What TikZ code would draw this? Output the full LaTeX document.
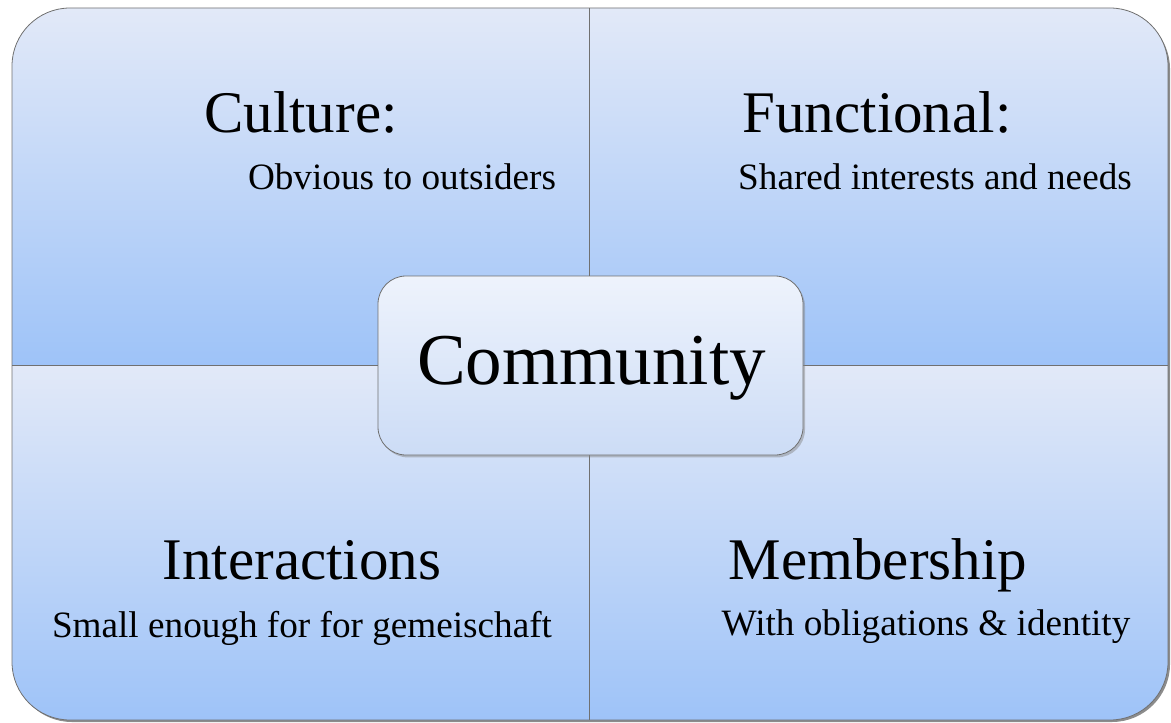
\documentclass[tikz,border=0pt]{standalone}
\usepackage{fontspec}
\setmainfont{Liberation Serif}
\usetikzlibrary{shadows}
\definecolor{paneltop}{RGB}{226,233,248}
\definecolor{panelbot}{RGB}{158,195,248}
\definecolor{hubtop}{RGB}{238,243,252}
\definecolor{hubbot}{RGB}{204,220,246}
\definecolor{edgegray}{RGB}{112,112,112}

\begin{document}
\begin{tikzpicture}
                [x=0.5pt,y=-0.5pt,
                quad/.style={top color=paneltop,bottom color=panelbot},
                title/.style={inner sep=0pt,anchor=base,font=\fontsize{29.5}{34}\selectfont},
                subtitle/.style={inner sep=0pt,anchor=base,font=\fontsize{18.6}{22}\selectfont},
                hub/.style={draw=edgegray,rounded corners=14pt,top color=hubtop,bottom color=hubbot,
                  minimum width=212.5pt,minimum height=89.5pt,inner sep=0pt,
                  drop shadow={shadow xshift=1pt,shadow yshift=-1.2pt,opacity=.45}},
                hubtext/.style={inner sep=0pt,anchor=base,font=\fontsize{36.5}{42}\selectfont}]
                \useasboundingbox (0,0) rectangle (1171,722);
                \fill[black!45,rounded corners=29pt] (14,11) rectangle (1170,722);
                \begin{scope}
                \clip[rounded corners=29pt] (12,8) rectangle (1168,720);
                \shade[quad] (12,8) rectangle (589,365);
                \shade[quad] (589,8) rectangle (1168,365);
                \shade[quad] (12,365) rectangle (589,720);
                \shade[quad] (589,365) rectangle (1168,720);
                \end{scope}
                \draw[edgegray] (589,8) -- (589,720);
                \draw[edgegray] (12,365) -- (1168,365);
                \draw[edgegray,rounded corners=29pt] (12,8) rectangle (1168,720);
                \node[hub] (hub) at (590.5,365.5) {};
                \node[hubtext] (community) at (591.5,384) {Community};
                \node[title] (culture) at (301,133) {Culture:};
                \node[subtitle] (culturesub) at (402,189) {Obvious to outsiders};
                \node[title] (functional) at (877,133) {Functional:};
                \node[subtitle] (functionalsub) at (935,189) {Shared interests and needs};
                \node[title] (interactions) at (302,579) {Interactions};
                \node[subtitle] (interactionssub) at (302,637) {Small enough for for gemeischaft};
                \node[title] (membership) at (878,579) {Membership};
                \node[subtitle] (membershipsub) at (926,635) {With obligations \& identity};
\end{tikzpicture}
\end{document}
